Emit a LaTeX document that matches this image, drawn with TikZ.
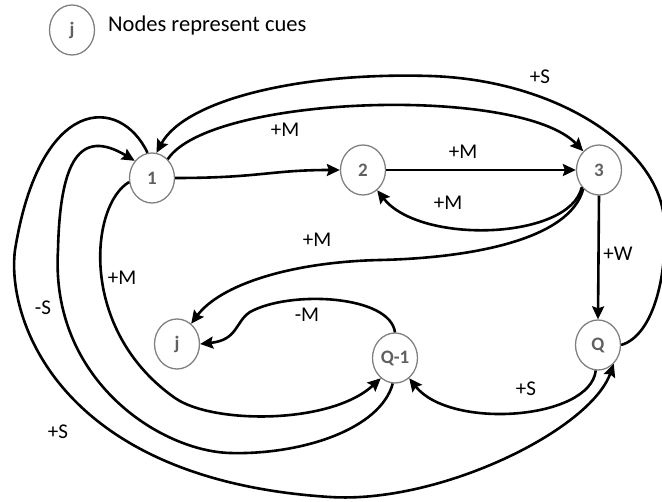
\documentclass[tikz,border=0pt]{standalone}
\usepackage{fontspec}
\setmainfont{Carlito}
\usetikzlibrary{shapes.geometric,arrows.meta}

\begin{document}
\begin{tikzpicture}[x=1pt,y=-1pt,
		cue/.style={ellipse,draw=gray,line width=1.3pt,minimum width=45pt,minimum height=50pt,inner sep=0pt,text=gray!75!black,font=\fontsize{19}{19}\selectfont\bfseries},
		link/.style={line width=2.6pt,-{Stealth[length=13pt,width=12pt,inset=2pt]}},
		lbl/.style={font=\fontsize{21}{21}\selectfont,inner sep=0pt}]
			\useasboundingbox (0,0) rectangle (662,502);
			% legend
			\node[cue] (key) at (72,30) {j};
			\node[anchor=west,inner sep=0pt,font=\fontsize{22.5}{22.5}\selectfont] (keytext) at (108,26) {Nodes represent cues};
			% cues
			\node[cue] (n1) at (152,178) {1};
			\node[cue] (n2) at (363,170) {2};
			\node[cue] (n3) at (599,170) {3};
			\node[cue] (nj) at (177,344) {j};
			\node[cue] (nq1) at (395,358) {Q-1};
			\node[cue] (nq) at (598,345) {Q};
			% links between cues
			\draw[link] (n1.east) .. controls (260,178) and (270,170) .. (n2.west);
			\draw[link] (n1.50) .. controls (210,95) and (520,85) .. (n3.130);
			\draw[link] (n2.east) -- (n3.west);
			\draw[link] (n3.225) .. controls (570,240) and (420,245) .. (n2.-55);
			\draw[link] (n3.230) .. controls (570,240) and (470,258) .. (380,260) .. controls (290,262) and (220,285) .. (nj.55);
			\draw[link] (nq1.north) .. controls (390,295) and (290,290) .. (250,312) .. controls (235,322) and (238,340) .. (nj.east);
			\draw[link] (n3.south) -- (nq.north);
			\draw[link] (nq.east) .. controls (655,335) and (668,270) .. (664,220) .. controls (660,150) and (560,80) .. (430,76) .. controls (300,72) and (185,100) .. (n1.80);
			\draw[link] (nq.265) .. controls (590,420) and (450,430) .. (nq1.-55);
			% the three long curves on the left
			\draw[link] (n1.190) .. controls (90,205) and (78,330) .. (175,398) .. controls (212,424) and (330,425) .. (nq1.235);
			\draw[link] (nq1.-95) .. controls (380,430) and (300,455) .. (230,453) .. controls (160,451) and (50,380) .. (58,250) .. controls (60,160) and (80,128) .. (n1.135);
			\draw[link] (n1.100) .. controls (120,95) and (40,95) .. (15,250) .. controls (6,320) and (60,480) .. (330,497) .. controls (440,504) and (590,430) .. (nq.-50);
			% labels
			\node[lbl] (l12) at (285,130) {+M};
			\node[lbl] (l23) at (463,152) {+M};
			\node[lbl] (l32) at (448,203) {+M};
			\node[lbl] (l3j) at (317,240) {+M};
			\node[lbl] (l3q) at (618,254) {+W};
			\node[lbl] (lq1) at (540,77) {+S};
			\node[lbl] (lqj) at (307,315) {-M};
			\node[lbl] (lqq) at (526,389) {+S};
			\node[lbl] (l1q) at (122,278) {+M};
			\node[lbl] (lq1b) at (43,308) {-S};
			\node[lbl] (l1qb) at (58,432) {+S};
		\end{tikzpicture}
\end{document}
